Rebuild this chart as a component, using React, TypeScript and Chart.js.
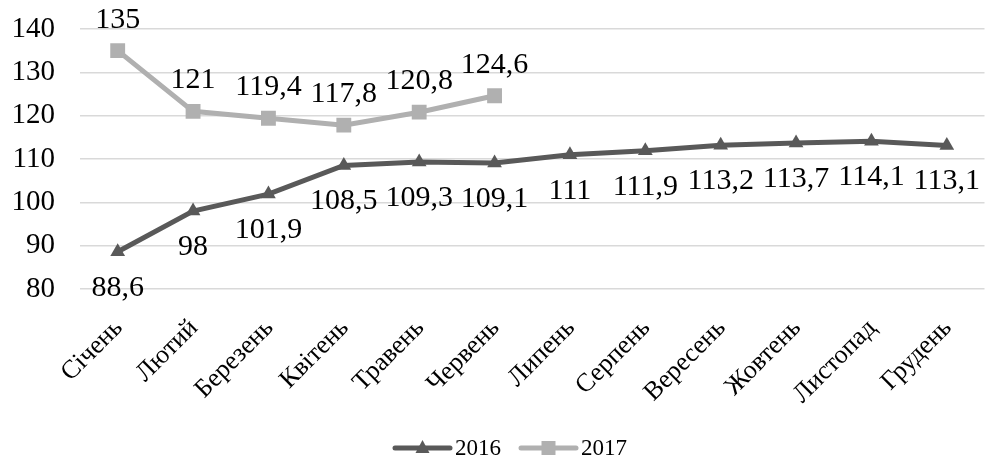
import React, { useEffect, useRef } from 'react';
import { Chart, registerables } from 'chart.js';

Chart.register(...registerables);

const months = ['Січень', 'Лютий', 'Березень', 'Квітень', 'Травень', 'Червень', 'Липень', 'Серпень', 'Вересень', 'Жовтень', 'Листопад', 'Грудень'];
const values2016 = [88.6, 98, 101.9, 108.5, 109.3, 109.1, 111, 111.9, 113.2, 113.7, 114.1, 113.1];
const values2017: (number | null)[] = [135, 121, 119.4, 117.8, 120.8, 124.6, null, null, null, null, null, null];
const seriesNames = ['2016', '2017'];
const yMin = 80;
const yMax = 140;
const yStep = 10;

const FONT = '"Liberation Serif", "Times New Roman", serif';
const DARK = '#595959';
const LIGHT = '#b0b0b0';

const fmt = (v: number) => String(v).replace('.', ',');

// Value labels: 2016 below its points, 2017 above.
const valueLabels = {
  id: 'valueLabels',
  afterDatasetsDraw(chart: any) {
    const ctx = chart.ctx;
    ctx.save();
    ctx.font = `30px ${FONT}`;
    ctx.fillStyle = '#000';
    ctx.textAlign = 'center';
    ctx.textBaseline = 'middle';
    chart.data.datasets.forEach((ds: any, i: number) => {
      const meta = chart.getDatasetMeta(i);
      meta.data.forEach((pt: any, j: number) => {
        const v = ds.data[j];
        if (v == null) return;
        ctx.fillText(fmt(v), pt.x, pt.y + ds.labelOffset);
      });
    });
    ctx.restore();
  },
};

// Bottom legend: line with marker in the middle, followed by series name.
const lineLegend = {
  id: 'lineLegend',
  afterDraw(chart: any) {
    const ctx = chart.ctx;
    const y = 448;
    const lineLen = 55;
    const gap = 5;
    const between = 20;
    ctx.save();
    ctx.font = `23px ${FONT}`;
    ctx.textBaseline = 'middle';
    ctx.textAlign = 'left';
    const items = chart.data.datasets.map((ds: any) => ({
      ds,
      w: lineLen + gap + ctx.measureText(ds.label).width,
    }));
    const total = items.reduce((s: number, it: any) => s + it.w, 0) + between * (items.length - 1);
    let x = 511 - total / 2;
    items.forEach((it: any) => {
      const c = it.ds.borderColor;
      ctx.strokeStyle = c;
      ctx.lineWidth = 5;
      ctx.lineCap = 'round';
      ctx.beginPath();
      ctx.moveTo(x, y);
      ctx.lineTo(x + lineLen, y);
      ctx.stroke();
      const cx = x + lineLen / 2;
      ctx.fillStyle = c;
      ctx.beginPath();
      if (it.ds.pointStyle === 'triangle') {
        ctx.moveTo(cx, y - 8);
        ctx.lineTo(cx + 7, y + 5);
        ctx.lineTo(cx - 7, y + 5);
        ctx.closePath();
      } else {
        ctx.rect(cx - 7, y - 7, 14, 14);
      }
      ctx.fill();
      ctx.fillStyle = '#000';
      ctx.fillText(it.ds.label, x + lineLen + gap, y + 1);
      x += it.w + between;
    });
    ctx.restore();
  },
};

export default function App() {
  const ref = useRef<HTMLCanvasElement>(null);

  useEffect(() => {
    document.body.style.margin = '0';
    const canvas = ref.current!;
    const chart = new Chart(canvas, {
      type: 'line',
      data: {
        labels: months,
        datasets: [
          {
            label: seriesNames[0],
            data: values2016,
            borderColor: DARK,
            backgroundColor: DARK,
            borderWidth: 5,
            pointStyle: 'triangle',
            pointRadius: 8.5,
            pointBorderWidth: 0,
            pointHoverRadius: 8.5,
            tension: 0,
            labelOffset: 36,
          } as any,
          {
            label: seriesNames[1],
            data: values2017,
            borderColor: LIGHT,
            backgroundColor: LIGHT,
            borderWidth: 5,
            pointStyle: 'rect',
            pointRadius: 10.5,
            pointBorderWidth: 0,
            pointHoverRadius: 10.5,
            tension: 0,
            spanGaps: false,
            labelOffset: -31,
          } as any,
        ],
      },
      options: {
        responsive: false,
        animation: false,
        devicePixelRatio: 1,
        layout: { padding: { top: 29, right: 2, bottom: 50, left: 0 } },
        plugins: {
          legend: { display: false },
          tooltip: { enabled: false },
        },
        scales: {
          x: {
            offset: true,
            grid: { display: false },
            border: { display: false },
            ticks: {
              color: '#000',
              font: { family: FONT, size: 26 },
              maxRotation: 45,
              minRotation: 45,
              autoSkip: false,
              padding: 16,
              labelOffset: 1,
            },
            afterFit(s: any) {
              s.height = 461 - 289 - 50;
              s.paddingLeft = 0;
              s.paddingRight = 0;
            },
          },
          y: {
            min: yMin,
            max: yMax,
            border: { display: false },
            grid: { color: '#d9d9d9', lineWidth: 1.5, drawTicks: false },
            ticks: {
              stepSize: yStep,
              color: '#000',
              font: { family: FONT, size: 29 },
              padding: 25,
            },
            afterFit(s: any) {
              s.width = 80;
              s.paddingTop = 0;
              s.paddingBottom = 0;
            },
          },
        },
      },
      plugins: [valueLabels, lineLegend],
    });
    return () => chart.destroy();
  }, []);

  return (
    <div style={{ width: 995, height: 461 }}>
      <canvas ref={ref} width={995} height={461} />
    </div>
  );
}
